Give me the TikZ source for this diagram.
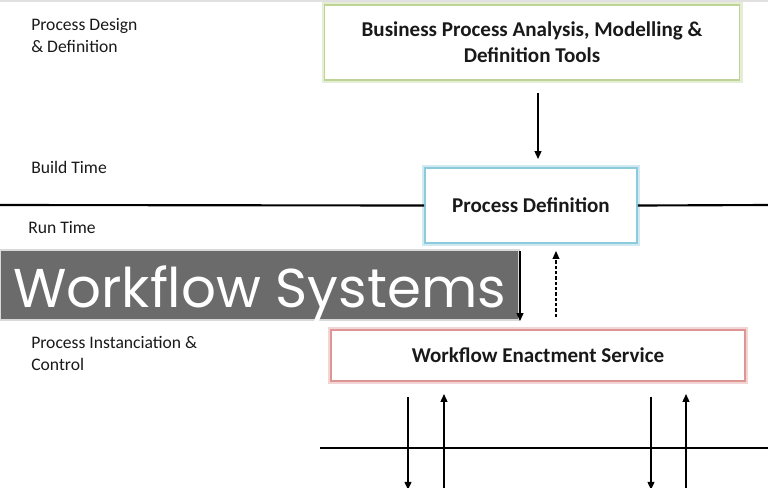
\documentclass[tikz,border=0pt]{standalone}
\usepackage{fontspec}
\setmainfont{Carlito}
\newfontfamily\bannerfont{Poppins}
\usetikzlibrary{arrows.meta}

\definecolor{boxgreen}{RGB}{190,212,150}
\definecolor{boxblue}{RGB}{140,203,220}
\definecolor{boxred}{RGB}{222,150,148}
\definecolor{bannergray}{RGB}{107,107,107}
\definecolor{textdark}{RGB}{25,25,25}

\begin{document}
\begin{tikzpicture}[x=0.75pt, y=-0.75pt,
    phase/.style={anchor=base west, inner sep=0pt, align=left, text=textdark,
        font=\fontsize{13.2}{16.2}\selectfont},
    toolbox/.style={draw=#1, line width=1.3pt, fill=white, align=center,
        preaction={draw=#1!40, line width=4.5pt}, text=textdark,
        font=\bfseries\fontsize{15.8}{19.5}\selectfont},
    arr/.style={-{Triangle[length=6pt, width=5pt]}, line width=1.4pt},
    timeline/.style={line width=1.6pt, draw=black}
]
\useasboundingbox (0,0) rectangle (768,487);
\clip (0,0) rectangle (768,487);

% faint top edge
\draw[black!12, line width=1.5pt] (0,1) -- (768,1);

% Phase labels (base = last line)
\node[phase] (design) at (31,52) {Process Design\\\& Definition};
\node[phase] (build) at (31,173) {Build Time};
\node[phase] (run) at (28,233) {Run Time};
\node[phase] (control) at (31,370) {Process Instanciation \&\\Control};

% Boxes
\node[toolbox=boxgreen, minimum width=311.25pt, minimum height=56.25pt] (tools) at (532,42.5)
    {Business Process Analysis, Modelling \&\\Definition Tools};
\node[toolbox=boxblue, minimum width=159pt, minimum height=56.25pt] (pd) at (531,205.5)
    {Process Definition};
\node[toolbox=boxred, minimum width=310.5pt, minimum height=38.25pt] (wes) at (538,355.5)
    {Workflow Enactment Service};

% Build time / run time line
\coordinate (tl) at (0,205);
\coordinate (tr) at (768,205);
\draw[timeline] (tl) -- (pd.west);
\draw[timeline] (pd.east) -- (tr);

\draw[arr] ([shift={(6,12)}]tools.south) -- ([shift={(7,-8)}]pd.north);

% Banner
\node[fill=bannergray, draw=black!15, line width=0.8pt, minimum width=389.25pt, minimum height=52.5pt,
    inner sep=0pt, text=white, text height=36.5pt, text depth=3.5pt,
    font=\bannerfont\fontsize{41}{41}\selectfont] (banner) at (259.5,285)
    {Workflow Systems};

\draw[arr] ([shift={(-11,7)}]pd.south) -- ([shift={(-18,-8)}]wes.north);
\draw[arr, dashed, line width=1.1pt, dash pattern=on 2.5pt off 1.5pt] ([shift={(18,-12)}]wes.north) -- ([shift={(25,7)}]pd.south);

% Lower interface line and arrows
\coordinate (busl) at (320,448);
\coordinate (busr) at (768,448);
\draw[timeline] (busl) -- (busr);

\foreach \dx/\id in {-130/a, 113/c} {
    \coordinate (out\id) at ([shift={(\dx,108)}]wes.south);
    \draw[arr] ([shift={(\dx,15)}]wes.south) -- (out\id);
}
\foreach \dx/\id in {-94/b, 148/d} {
    \coordinate (in\id) at ([shift={(\dx,110)}]wes.south);
    \draw[arr] (in\id) -- ([shift={(\dx,12)}]wes.south);
}
\end{tikzpicture}
\end{document}
